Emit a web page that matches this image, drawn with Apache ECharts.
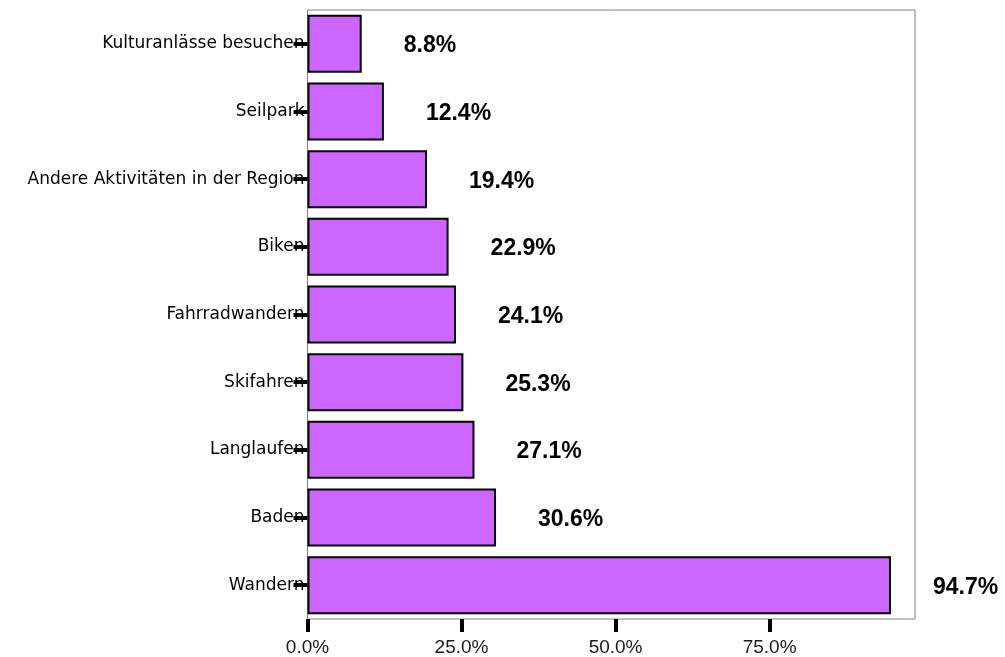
<!DOCTYPE html>
<html>
<head>
<meta charset="utf-8">
<script src="https://cdn.jsdelivr.net/npm/echarts@6/dist/echarts.min.js"></script>
<style>html,body{margin:0;padding:0;background:#fff}#c{width:1005px;height:657px}</style>
</head>
<body>
<div id="c"></div>
<script>
const categories = ['Kulturanlässe besuchen','Seilpark','Andere Aktivitäten in der Region','Biken','Fahrradwandern','Skifahren','Langlaufen','Baden','Wandern'];
const values = [8.8, 12.4, 19.4, 22.9, 24.1, 25.3, 27.1, 30.6, 94.7];
const tickValues = [0, 25, 50, 75];

const chart = echarts.init(document.getElementById('c'), null, {renderer: 'canvas'});
chart.setOption({
  animation: false,
  backgroundColor: '#ffffff',
  grid: {left: 307.5, right: 90, top: 10, bottom: 38, show: true, borderColor: '#808080', borderWidth: 1, backgroundColor: 'transparent', containLabel: false},
  xAxis: {
    type: 'value', min: 0, max: 98.6, interval: 25,
    axisLine: {show: false},
    splitLine: {show: false},
    axisTick: {show: true, length: 13, customValues: tickValues, lineStyle: {color: '#000', width: 4}},
    axisLabel: {customValues: tickValues, margin: 19, fontFamily: 'Liberation Sans', fontSize: 19, color: '#1a1a1a',
      formatter: v => v.toFixed(1) + '%'}
  },
  yAxis: {
    type: 'category', data: categories, inverse: true,
    axisLine: {show: false},
    axisTick: {show: true, alignWithLabel: true, length: 14, lineStyle: {color: '#000', width: 4}},
    axisLabel: {margin: 3, fontFamily: 'DejaVu Sans', fontSize: 17, color: '#000'}
  },
  series: [{
    type: 'bar',
    data: values,
    barWidth: 58,
    itemStyle: {color: '#CC66FF', borderColor: '#000', borderWidth: 2},
    label: {show: true, position: 'right', distance: 42, offset: [0, 2],
      fontFamily: 'Liberation Sans', fontWeight: 'bold', fontSize: 23, color: '#000',
      formatter: p => p.value.toFixed(1) + '%'}
  }]
});
</script>
</body>
</html>
